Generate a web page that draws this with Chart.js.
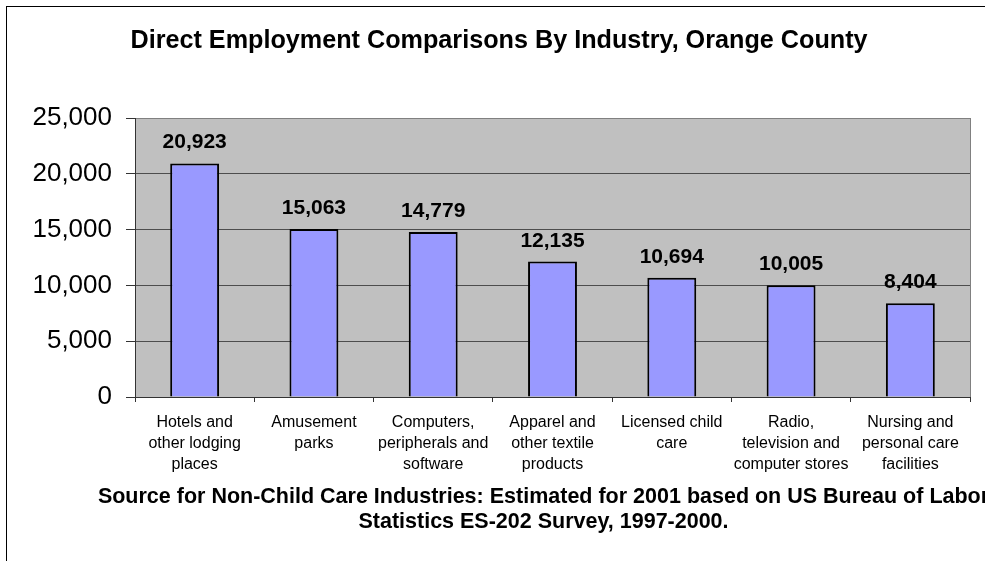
<!DOCTYPE html>
<html>
<head>
<meta charset="utf-8">
<script src="https://cdn.jsdelivr.net/npm/chart.js@4/dist/chart.umd.min.js"></script>
<style>
  html, body { margin: 0; padding: 0; background: #fff; overflow: hidden; }
  #wrap { position: relative; width: 985px; height: 561px; }
</style>
</head>
<body>
<div id="wrap"><canvas id="employment" width="985" height="561"></canvas></div>
<script>
const INDUSTRIES = [
  ['Hotels and', 'other lodging', 'places'],
  ['Amusement', 'parks'],
  ['Computers,', 'peripherals and', 'software'],
  ['Apparel and', 'other textile', 'products'],
  ['Licensed child', 'care'],
  ['Radio,', 'television and', 'computer stores'],
  ['Nursing and', 'personal care', 'facilities']
];
const EMPLOYMENT = [20923, 15063, 14779, 12135, 10694, 10005, 8404];
const Y_TICKS = [0, 5000, 10000, 15000, 20000, 25000];

const TITLE = 'Direct Employment Comparisons By Industry, Orange County';
const SOURCE_NOTE = [
  'Source for Non-Child Care Industries: Estimated for 2001 based on US Bureau of Labor',
  'Statistics ES-202 Survey, 1997-2000.'
];

const FONT = "'Liberation Sans', Arial, Helvetica, sans-serif";
Chart.defaults.font.family = FONT;
Chart.defaults.color = '#000';

// grey plot area, outer frame, heading and the source note underneath
const frame = {
  id: 'frame',
  beforeDraw(chart) {
    const { ctx, chartArea: a } = chart;
    ctx.save();
    ctx.fillStyle = '#fff';
    ctx.fillRect(0, 0, chart.width, chart.height);
    ctx.strokeStyle = '#000';
    ctx.lineWidth = 1;
    ctx.strokeRect(6.5, 6.5, 1200, 1200);
    ctx.fillStyle = '#C0C0C0';
    ctx.fillRect(a.left, a.top, a.right - a.left, a.bottom - a.top);
    ctx.strokeStyle = '#808080';
    ctx.strokeRect(a.left + 0.5, a.top + 0.5, a.right - a.left, a.bottom - a.top);
    ctx.restore();
  },
  afterDraw(chart) {
    const { ctx } = chart;
    ctx.save();
    ctx.fillStyle = '#000';
    ctx.textAlign = 'center';
    ctx.textBaseline = 'middle';
    ctx.font = 'bold 25.2px ' + FONT;
    ctx.fillText(TITLE, 499, 41);
    ctx.font = 'bold 21.5px ' + FONT;
    SOURCE_NOTE.forEach((line, i) => ctx.fillText(line, 543.5, 497 + i * 25));
    ctx.restore();
  }
};

// value printed above each column
const valueLabels = {
  id: 'valueLabels',
  afterDatasetsDraw(chart) {
    const { ctx } = chart;
    const meta = chart.getDatasetMeta(0);
    ctx.save();
    ctx.font = 'bold 21px ' + FONT;
    ctx.fillStyle = '#000';
    ctx.textAlign = 'center';
    ctx.textBaseline = 'alphabetic';
    meta.data.forEach((bar, i) => {
      const v = chart.data.datasets[0].data[i];
      ctx.fillText(v.toLocaleString('en-US'), bar.x, bar.y - 15);
    });
    ctx.restore();
  }
};

new Chart(document.getElementById('employment'), {
  type: 'bar',
  data: {
    labels: INDUSTRIES,
    datasets: [{
      data: EMPLOYMENT,
      backgroundColor: '#9999FF',
      borderColor: '#000',
      borderWidth: 2,
      barPercentage: 0.41,
      categoryPercentage: 1.0
    }]
  },
  plugins: [frame, valueLabels],
  options: {
    responsive: false,
    animation: false,
    layout: { padding: { left: 0, right: 15, top: 118, bottom: 0 } },
    plugins: {
      legend: { display: false },
      tooltip: { enabled: false },
      title: { display: false }
    },
    scales: {
      x: {
        grid: {
          drawOnChartArea: false,
          tickLength: 5,
          color: '#333'
        },
        border: { display: true, color: '#333' },
        ticks: {
          padding: 10,
          maxRotation: 0,
          autoSkip: false,
          font: { size: 16, lineHeight: 1.31 }
        },
        afterFit(scale) { scale.height = 164; }
      },
      y: {
        min: Y_TICKS[0],
        max: Y_TICKS[Y_TICKS.length - 1],
        afterBuildTicks(scale) {
          scale.ticks = Y_TICKS.map(v => ({ value: v }));
        },
        grid: {
          tickLength: 9,
          color: (c) => (c.tick && c.tick.value === 25000 ? '#808080' : '#4d4d4d'),
          tickColor: '#333'
        },
        border: { display: true, color: '#333' },
        ticks: {
          padding: 14,
          font: { size: 26 },
          callback: (v) => Number(v).toLocaleString('en-US')
        },
        afterFit(scale) { scale.width = 135; }
      }
    }
  }
});
</script>
</body>
</html>
